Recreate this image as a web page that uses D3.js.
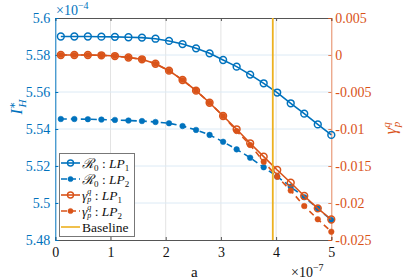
<!DOCTYPE html>
<html><head><meta charset="utf-8">
<script src="https://cdn.jsdelivr.net/npm/d3@7"></script>
<style>body{margin:0;background:#fff}svg{display:block}text{font-family:"Liberation Serif","DejaVu Serif",serif}</style>
</head><body>
<svg id="c" width="403" height="280"></svg>
<script>
// ---- data ----
const aVals = [0.1,0.345,0.59,0.835,1.08,1.325,1.57,1.815,2.06,2.305,2.55,2.795,3.04,3.285,3.53,3.775,4.02,4.265,4.51,4.755,5.0]; // x 1e-7
const r0LP1 = [5.5900,5.5900,5.5900,5.5899,5.5898,5.5896,5.5894,5.5888,5.5876,5.5859,5.5836,5.5809,5.5773,5.5737,5.5694,5.5647,5.5597,5.5539,5.5483,5.5425,5.5368]; // x 1e-4
const r0LP2 = [5.5454,5.5454,5.5453,5.5451,5.5449,5.5446,5.5443,5.5438,5.5431,5.5416,5.5395,5.5368,5.5331,5.5290,5.5245,5.5193,5.5143,5.5088,5.5031,5.4971,5.4908];
const gLP1 = [0,0,0,-0.00004,-0.00014,-0.00034,-0.00058,-0.00118,-0.00212,-0.00338,-0.00482,-0.00645,-0.00824,-0.01004,-0.01193,-0.01374,-0.01554,-0.01726,-0.01905,-0.02072,-0.02223];
const gLP2 = [0,0,0,-0.00004,-0.00014,-0.00034,-0.00058,-0.00118,-0.00212,-0.00338,-0.00482,-0.00645,-0.00824,-0.01027,-0.01216,-0.01442,-0.01645,-0.01831,-0.02041,-0.0222,-0.02388];
const baselineA = 3.94;
const xTicks = [0,1,2,3,4,5];
const yLTicks = [5.48,5.5,5.52,5.54,5.56,5.58,5.6];
const yLLabels = ["5.48","5.5","5.52","5.54","5.56","5.58","5.6"];
const yRTicks = [-0.025,-0.02,-0.015,-0.01,-0.005,0,0.005];
const yRLabels = ["-0.025","-0.02","-0.015","-0.01","-0.005","0","0.005"];

const BLUE="#0072BD", ORANGE="#D95319", YELLOW="#EDB120", AX="#555";
const FONT='"Liberation Serif","DejaVu Serif",serif';

const svg = d3.select("#c");
const L=55.3, R=331.3, T=18, B=240;
const x = d3.scaleLinear().domain([0,5]).range([L,R]);
const yL = d3.scaleLinear().domain([5.48,5.6]).range([B,T]);
const yR = d3.scaleLinear().domain([-0.025,0.005]).range([B,T]);

// grid
const g = svg.append("g");
g.selectAll("line.vg").data(xTicks.slice(1,-1)).join("line")
  .attr("x1",d=>x(d)).attr("x2",d=>x(d)).attr("y1",T).attr("y2",B)
  .attr("stroke","#e3e3e3").attr("stroke-width",1);
g.selectAll("line.hg").data(yLTicks.slice(1,-1)).join("line")
  .attr("x1",L).attr("x2",R).attr("y1",d=>yL(d)).attr("y2",d=>yL(d))
  .attr("stroke","#dceaf5").attr("stroke-width",1);

// axes
const ax = svg.append("g");
const xb = ax.append("g").attr("transform",`translate(0,${B})`)
  .call(d3.axisBottom(x).tickValues(xTicks).tickSize(-3).tickPadding(7).tickFormat(d3.format("d")));
const xt = ax.append("g").attr("transform",`translate(0,${T})`)
  .call(d3.axisTop(x).tickValues(xTicks).tickSize(-3).tickFormat(""));
const yl = ax.append("g").attr("transform",`translate(${L},0)`)
  .call(d3.axisLeft(yL).tickValues(yLTicks).tickSize(-3).tickPadding(5).tickFormat((d,i)=>yLLabels[i]));
const yr = ax.append("g").attr("transform",`translate(${R},0)`)
  .call(d3.axisRight(yR).tickValues(yRTicks).tickSize(-3).tickPadding(4).tickFormat((d,i)=>yRLabels[i]));
[xb,xt,yl,yr].forEach(s=>s.attr("font-family",FONT).attr("font-size",14));
[xb,xt].forEach(s=>{s.selectAll("path,line").attr("stroke",AX);s.selectAll("text").attr("fill","#111");});
yl.selectAll("path,line").attr("stroke",BLUE); yl.selectAll("text").attr("fill",BLUE);
yr.selectAll("path,line").attr("stroke",ORANGE).attr("stroke-opacity",0.7); yr.selectAll("text").attr("fill",ORANGE);
ax.selectAll("text").attr("font-size",14).attr("font-family",FONT);
ax.selectAll(".domain").attr("stroke-width",1);

// series
const lineL = d3.line().x((d,i)=>x(aVals[i])).y(d=>yL(d));
const lineR = d3.line().x((d,i)=>x(aVals[i])).y(d=>yR(d));
function series(vals, lineGen, yS, color, dashed, filled){
  const s = svg.append("g");
  s.append("path").attr("d",lineGen(vals)).attr("fill","none").attr("stroke",color)
    .attr("stroke-width",1.6).attr("stroke-dasharray",dashed?"6,4":null);
  s.selectAll("circle").data(vals).join("circle")
    .attr("cx",(d,i)=>x(aVals[i])).attr("cy",d=>yS(d))
    .attr("r",filled?2.8:3.4)
    .attr("fill",filled?color:"none").attr("stroke",color).attr("stroke-width",filled?0.5:1.5);
}
series(r0LP1,lineL,yL,BLUE,false,false);
series(r0LP2,lineL,yL,BLUE,true,true);
series(gLP1,lineR,yR,ORANGE,false,false);
series(gLP2,lineR,yR,ORANGE,true,true);
svg.append("line").attr("x1",x(baselineA)).attr("x2",x(baselineA)).attr("y1",T).attr("y2",B)
  .attr("stroke",YELLOW).attr("stroke-width",1.8);

// multiplier labels
const m1 = svg.append("text").attr("x",56).attr("y",15).attr("font-family",FONT).attr("font-size",14).attr("fill",BLUE);
m1.append("tspan").text("×10"); m1.append("tspan").attr("dy",-6).attr("font-size",10).text("−4");
const m2 = svg.append("text").attr("x",291).attr("y",277).attr("font-family",FONT).attr("font-size",14).attr("fill","#111");
m2.append("tspan").text("×10"); m2.append("tspan").attr("dy",-6).attr("font-size",10).text("−7");

// x label
svg.append("text").attr("x",x(2.5)+1).attr("y",277).attr("text-anchor","middle")
  .attr("font-family",FONT).attr("font-size",15).attr("fill","#111").text("a");

// y labels
const yl1 = svg.append("text").attr("transform","translate(22,107) rotate(-90)").attr("text-anchor","middle")
  .attr("font-family",FONT).attr("font-size",16).attr("fill",BLUE);
yl1.append("tspan").attr("font-style","italic").text("I");
yl1.append("tspan").attr("font-size",11).attr("dy",-6).text("∗");
yl1.append("tspan").attr("font-size",11).attr("font-style","italic").attr("dx",-6).attr("dy",10).text("H");
const yl2 = svg.append("text").attr("transform","translate(396,128) rotate(-90)").attr("text-anchor","middle")
  .attr("font-family",FONT).attr("font-size",16).attr("fill",ORANGE);
yl2.append("tspan").attr("font-style","italic").text("γ");
yl2.append("tspan").attr("font-size",11).attr("font-style","italic").attr("dy",-6).text("q");
yl2.append("tspan").attr("font-size",11).attr("font-style","italic").attr("dx",-5).attr("dy",10).text("p");

// legend
const lg = svg.append("g");
lg.append("rect").attr("x",59.5).attr("y",153.5).attr("width",75).attr("height",83)
  .attr("fill","#fff").attr("stroke","#777").attr("stroke-width",1);
const items = [
  {c:BLUE,dash:false,filled:false,sym:"ℛ",sup:null,sub:"0",n:"1"},
  {c:BLUE,dash:true,filled:true,sym:"ℛ",sup:null,sub:"0",n:"2"},
  {c:ORANGE,dash:false,filled:false,sym:"γ",sup:"q",sub:"p",n:"1"},
  {c:ORANGE,dash:true,filled:true,sym:"γ",sup:"q",sub:"p",n:"2"},
  {c:YELLOW,base:true}
];
items.forEach((it,i)=>{
  const yy = 163 + i*16;
  lg.append("line").attr("x1",61).attr("x2",80).attr("y1",yy).attr("y2",yy)
    .attr("stroke",it.c).attr("stroke-width",1.6).attr("stroke-dasharray",it.dash?"6,3":null);
  if(!it.base){
    lg.append("circle").attr("cx",70.5).attr("cy",yy).attr("r",it.filled?2.6:3)
      .attr("fill",it.filled?it.c:"none").attr("stroke",it.c).attr("stroke-width",it.filled?0.5:1.4);
  }
  const t = lg.append("text").attr("x",82).attr("y",yy+4.5).attr("font-family",FONT).attr("font-size",13.5).attr("fill","#111");
  if(it.base){ t.text("Baseline"); return; }
  t.append("tspan").attr("font-style","italic").text(it.sym);
  if(it.sup){
    t.append("tspan").attr("font-size",8).attr("font-style","italic").attr("dy",-5.5).text(it.sup);
    t.append("tspan").attr("font-size",8).attr("font-style","italic").attr("dx",-4).attr("dy",8).text(it.sub);
    t.append("tspan").attr("dy",-2.5).text(" : ");
  } else {
    t.append("tspan").attr("font-size",9).attr("dy",3).text(it.sub);
    t.append("tspan").attr("dy",-3).text(" : ");
  }
  t.append("tspan").attr("font-style","italic").text("LP");
  t.append("tspan").attr("font-size",9).attr("dy",3).text(it.n);
});
</script>
</body></html>
